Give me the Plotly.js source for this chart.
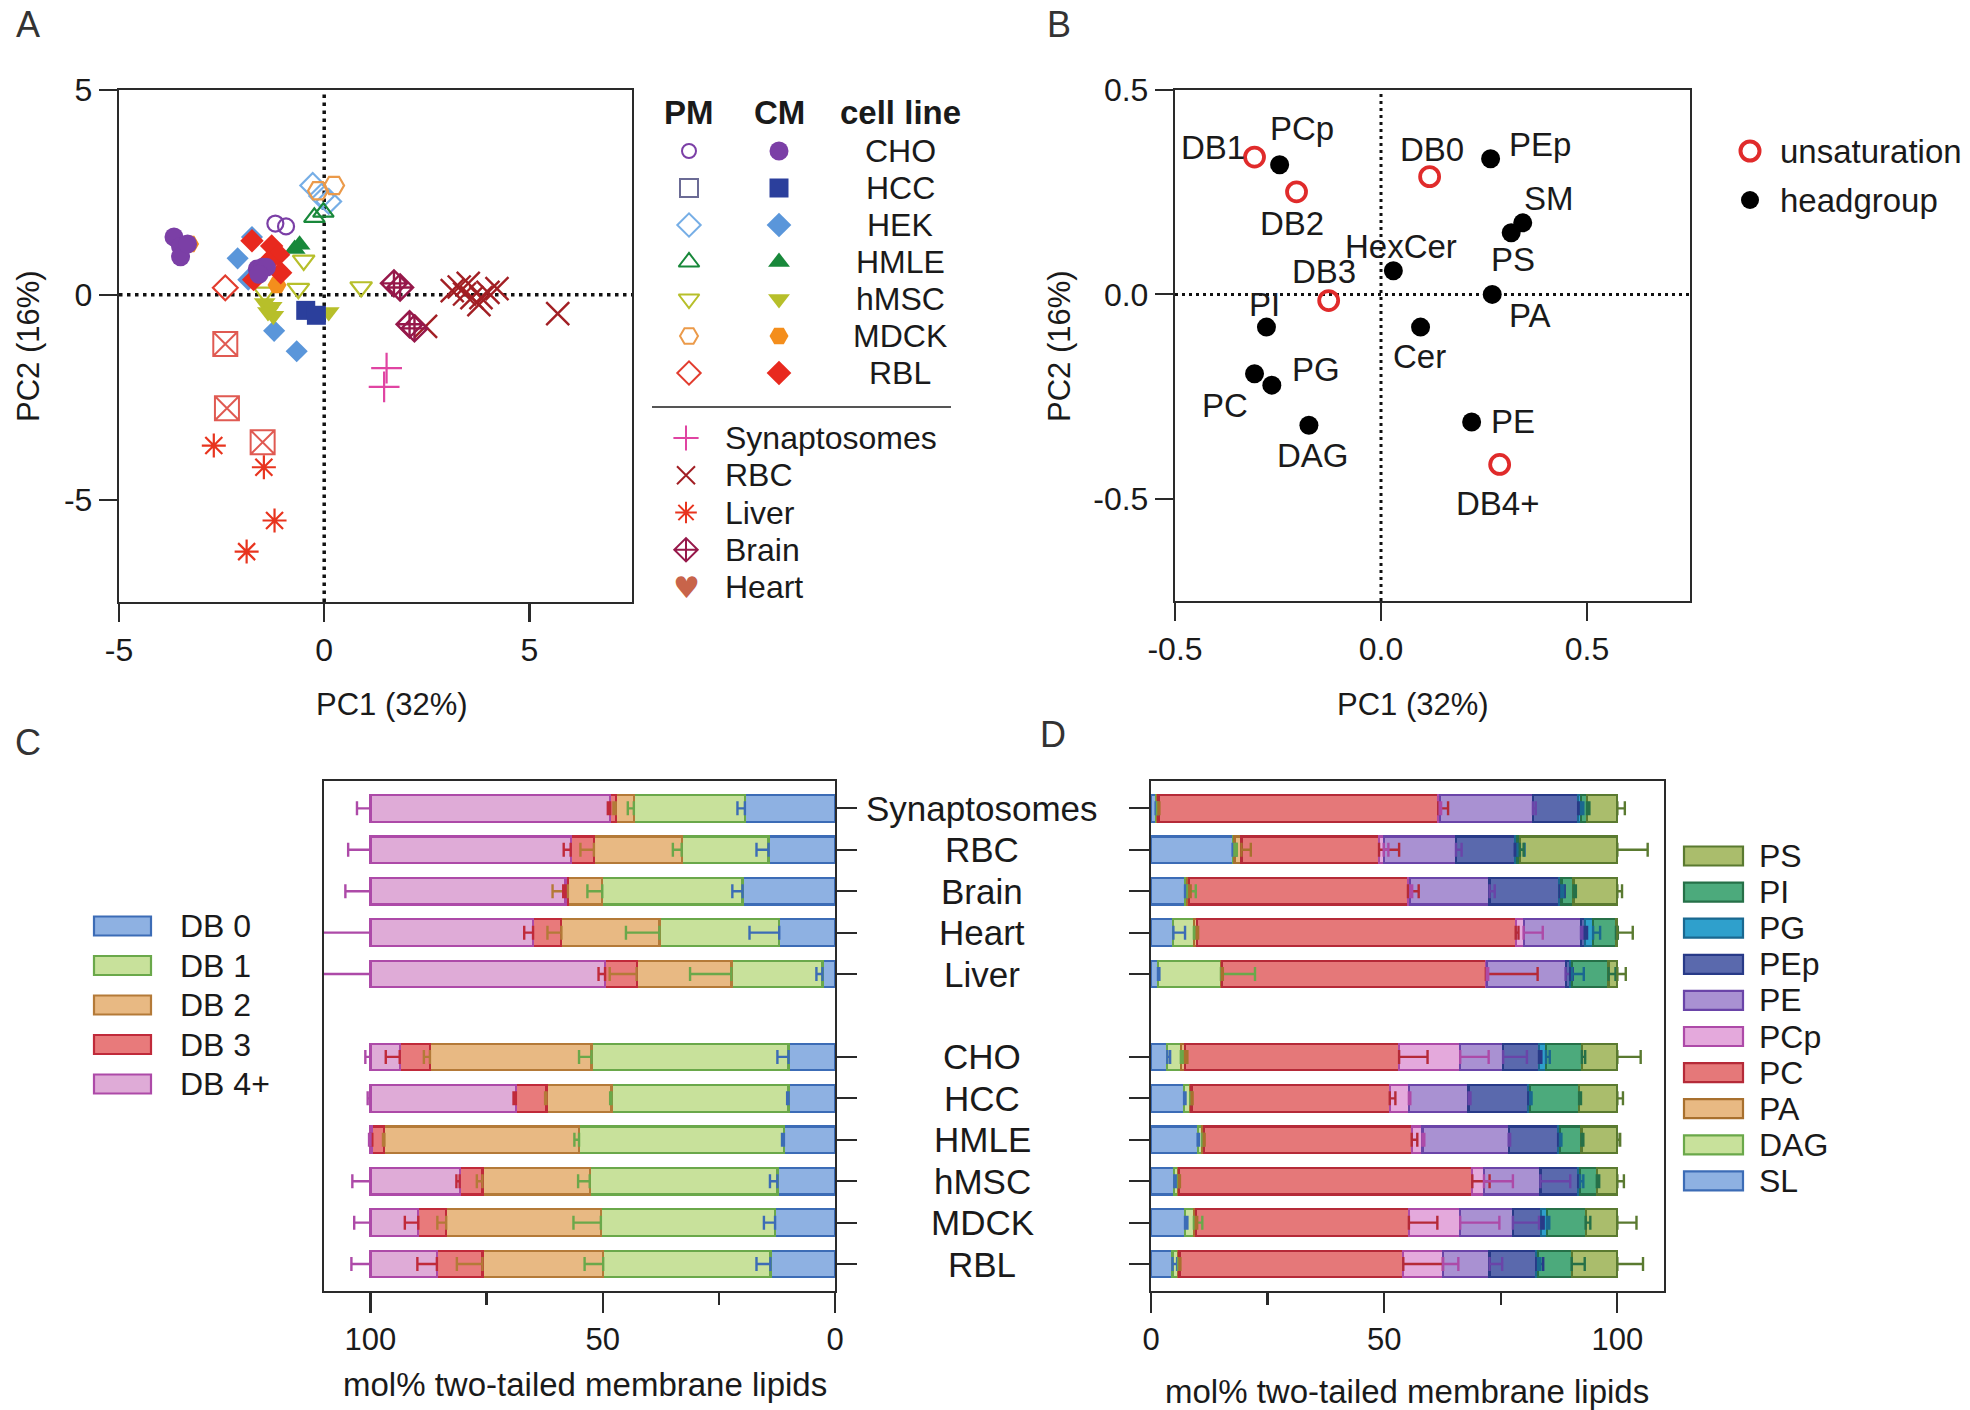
<!DOCTYPE html>
<html><head><meta charset="utf-8">
<script src="https://cdn.plot.ly/plotly-3.0.1.min.js"></script>
<style>html,body{margin:0;padding:0;background:#fff}#chart{width:1970px;height:1410px}</style>
</head><body><div id="chart"></div>
<script>
// ================= DATA =================
// Panel A : PCA scores (PC1, PC2)
const choPM_x = [-1.19, -0.93], choPM_y = [1.74, 1.67];
const choCM_x = [-3.66, -3.50, -3.50, -3.33, -1.63, -1.50, -1.41, -1.59];
const choCM_y = [1.41, 1.18, 0.93, 1.24, 0.63, 0.67, 0.67, 0.50];
const hccCM_x = [-0.45, -0.19], hccCM_y = [-0.38, -0.50];
const hekPM_x = [-0.28, -0.06, 0.11], hekPM_y = [2.67, 2.41, 2.28];
const hekCM_x = [-1.76, -2.11, -1.85, -1.22, -0.67], hekCM_y = [1.41, 0.89, 0.37, -0.88, -1.38];
const hmlePM_x = [-0.24, -0.02], hmlePM_y = [1.89, 2.02];
const hmleCM_x = [-0.72, -0.60], hmleCM_y = [1.12, 1.22];
const hmscPM_x = [-0.50, -0.63, 0.90, -1.45], hmscPM_y = [0.84, 0.15, 0.19, 0.06];
const hmscCM_x = [-1.45, -1.28, -1.24, -1.37, 0.11], hmscCM_y = [-0.20, -0.29, -0.51, -0.42, -0.42];
const mdckPM_x = [0.24, -0.15], mdckPM_y = [2.67, 2.54];
const mdckCM_x = [-1.15, -3.28], mdckCM_y = [0.24, 1.24];
const rblPM_x = [-2.41], rblPM_y = [0.17];
const rblCM_x = [-1.76, -1.28, -1.11, -1.37, -1.72, -1.06], rblCM_y = [1.32, 1.19, 0.98, 0.80, 0.37, 0.54];
const syn_x = [1.52, 1.46], syn_y = [-1.79, -2.25];
const rbc_x = [3.12, 3.29, 3.42, 3.60, 3.77, 3.99, 4.21, 3.82, 3.51, 2.47, 5.69];
const rbc_y = [0.10, 0.19, 0.02, -0.07, -0.24, 0.06, 0.15, -0.07, 0.28, -0.77, -0.46];
const liver_x = [-2.69, -1.47, -1.21, -1.89], liver_y = [-3.68, -4.21, -5.51, -6.27];
const brain_x = [1.70, 1.85, 2.08, 2.20], brain_y = [0.28, 0.18, -0.72, -0.82];
const heart_x = [-2.41, -2.37, -1.50], heart_y = [-1.20, -2.77, -3.60];

const cellLines = ['CHO', 'HCC', 'HEK', 'HMLE', 'hMSC', 'MDCK', 'RBL'];
const tissues = ['Synaptosomes', 'RBC', 'Liver', 'Brain', 'Heart'];

// Panel B : loadings
const unsatLabels = ['DB0', 'DB1', 'DB2', 'DB3', 'DB4+'];
const unsat_x = [0.118, -0.307, -0.205, -0.127, 0.288];
const unsat_y = [0.288, 0.336, 0.251, -0.015, -0.416];
const headLabels = ['PCp', 'PEp', 'SM', 'PS', 'HexCer', 'PA', 'PI', 'Cer', 'PC', 'PG', 'DAG', 'PE'];
const head_x = [-0.246, 0.266, 0.344, 0.316, 0.030, 0.270, -0.278, 0.096, -0.307, -0.265, -0.175, 0.220];
const head_y = [0.317, 0.332, 0.175, 0.151, 0.058, 0.000, -0.080, -0.080, -0.194, -0.222, -0.320, -0.312];

// Panels C & D : rows
const samples = ['Synaptosomes', 'RBC', 'Brain', 'Heart', 'Liver', 'CHO', 'HCC', 'HMLE', 'hMSC', 'MDCK', 'RBL'];

// Panel C : unsaturation (mol%)
const dbNames = ['DB 0', 'DB 1', 'DB 2', 'DB 3', 'DB 4+'];
const db0 = [19.4, 14.3, 19.9, 12.0, 2.7, 10.0, 10.0, 11.0, 12.4, 12.9, 13.9];
const db1 = [23.9, 18.7, 30.2, 25.8, 19.6, 42.4, 38.1, 44.1, 40.4, 37.5, 36.0];
const db2 = [3.9, 18.9, 7.4, 21.1, 20.4, 34.8, 14.0, 41.9, 23.1, 33.3, 26.0];
const db3 = [1.2, 5.0, 0.5, 6.1, 6.8, 6.5, 6.6, 2.6, 4.9, 6.0, 9.8];
const db4 = [51.6, 43.1, 42.0, 35.0, 50.5, 6.3, 31.3, 0.4, 19.2, 10.3, 14.3];
const db0_sd = [1.6, 2.6, 2.2, 6.4, 1.3, 2.4, 0.3, 0.4, 1.6, 2.4, 3.0];
const db1_sd = [1.3, 1.9, 3.2, 7.2, 8.9, 2.7, 0.3, 1.0, 2.5, 5.9, 4.0];
const db2_sd = [0.5, 2.9, 3.3, 3.0, 5.8, 1.3, 0.3, 0.3, 1.2, 1.9, 5.5];
const db3_sd = [0.5, 1.5, 0.5, 1.9, 1.4, 3.0, 0.5, 0.4, 0.7, 2.9, 4.2];
const db4_sd = [2.9, 4.8, 5.4, 14.0, 14.0, 1.1, 0.6, 0.3, 3.9, 3.5, 4.1];

// Panel D : headgroup classes (mol%)
const hgNames = ['SL', 'DAG', 'PA', 'PC', 'PCp', 'PE', 'PEp', 'PG', 'PI', 'PS'];
const sl  = [1.0, 17.5, 7.3, 4.8, 1.5, 3.5, 7.1, 10.0, 5.0, 7.3, 4.6];
const dag = [0.3, 0.4, 0.5, 4.4, 13.5, 2.9, 1.3, 1.0, 0.8, 1.9, 1.2];
const pa  = [0.3, 1.5, 0.4, 0.6, 0.2, 0.9, 0.3, 0.3, 0.2, 0.4, 0.3];
const pc  = [60.0, 29.5, 46.9, 68.4, 56.6, 45.9, 42.5, 44.6, 62.9, 45.7, 48.0];
const pcp = [0.3, 1.0, 0.5, 1.7, 0.2, 13.1, 4.1, 2.3, 2.5, 11.0, 8.5];
const pe  = [20.0, 15.5, 17.0, 12.3, 16.9, 9.2, 12.8, 18.5, 12.1, 11.3, 10.0];
const pep = [9.7, 12.6, 15.0, 0.8, 1.0, 7.7, 12.8, 10.6, 8.1, 6.1, 10.0];
const pg  = [0.6, 0.6, 0.4, 1.8, 0.4, 1.5, 0.4, 0.4, 0.4, 1.2, 0.4];
const pi  = [1.3, 0.5, 2.6, 4.9, 7.8, 7.7, 10.5, 4.6, 3.6, 8.3, 7.2];
const ps  = [6.5, 20.9, 9.4, 0.3, 1.9, 7.6, 8.2, 7.7, 4.4, 6.8, 9.8];
const sl_sd  = [0.3, 0.8, 0.5, 2.5, 0.3, 0.6, 0.3, 0.3, 0.4, 0.5, 1.0];
const dag_sd = [0.2, 0.5, 1.8, 0.3, 7.3, 0.5, 0.4, 0.3, 0.3, 1.8, 0.3];
const pa_sd  = [0.2, 2.0, 0.3, 0.3, 0.2, 0.5, 0.2, 0.2, 0.2, 0.3, 0.2];
const pc_sd  = [2.1, 4.3, 2.3, 0.6, 11.1, 6.1, 1.2, 1.2, 3.7, 6.1, 8.5];
const pcp_sd = [0.3, 1.0, 0.4, 4.1, 0.3, 6.1, 0.3, 0.4, 6.2, 8.4, 3.3];
const pe_sd  = [0.6, 1.2, 1.1, 0.5, 1.5, 5.1, 0.4, 0.3, 6.4, 5.6, 2.7];
const pep_sd = [0.5, 0.5, 1.1, 0.5, 0.5, 0.5, 0.4, 0.4, 0.3, 0.5, 1.5];
const pg_sd  = [0.5, 1.5, 0.4, 1.5, 2.5, 0.8, 0.3, 0.3, 0.7, 0.5, 0.5];
const pi_sd  = [0.5, 0.8, 0.5, 0.4, 1.5, 0.7, 0.4, 0.4, 0.5, 1.0, 2.8];
const ps_sd  = [1.6, 6.5, 1.0, 3.3, 1.8, 5.0, 1.2, 0.6, 1.4, 4.1, 5.5];

// ================= STYLE =================
const FONT = 'Liberation Sans, Arial, Helvetica, sans-serif';
const TXT = '#1a1a1a';
const W = 1970, H = 1410;
const cellStyle = {
  CHO:  {pm: 'circle-open',        cm: 'circle',        c: '#7b3fa6', cpm: '#7b3fa6'},
  HCC:  {pm: 'square-open',        cm: 'square',        c: '#2b3f9c', cpm: '#6b6b95'},
  HEK:  {pm: 'diamond-open',       cm: 'diamond',       c: '#5a96da', cpm: '#76aee6'},
  HMLE: {pm: 'triangle-up-open',   cm: 'triangle-up',   c: '#18883a', cpm: '#18883a'},
  hMSC: {pm: 'triangle-down-open', cm: 'triangle-down', c: '#b7bf2a', cpm: '#b7bf2a'},
  MDCK: {pm: 'hexagon2-open',      cm: 'hexagon2',      c: '#f48e1c', cpm: '#eb9a4a'},
  RBL:  {pm: 'diamond-open',       cm: 'diamond',       c: '#e8291e', cpm: '#e23c2e'}
};
const tissueStyle = {
  Synaptosomes: {s: 'cross-thin-open', c: '#e044a2'},
  RBC:          {s: 'x-thin-open',     c: '#a21f24'},
  Liver:        {s: 'asterisk-open',   c: '#e8341e'},
  Brain:        {s: 'diamond-cross-open', c: '#96184a'},
  Heart:        {s: 'square-x-open',   c: '#e05a52'}
};
const dbFill = ['#8eb1e2', '#c8e19b', '#e8b983', '#e87a7b', '#dfabd7'];
const dbLine = ['#3c6cb6', '#6aa84a', '#b47a38', '#c02a3a', '#ad4aa8'];
const hgFill = ['#8eb1e2', '#c8e19b', '#e8b983', '#e57879', '#e4a9dc', '#a991d2', '#5a69ad', '#2fa0cc', '#4caa7c', '#aabd6c'];
const hgLine = ['#3c6cb6', '#6aa84a', '#a8702e', '#b52a38', '#ad4aa8', '#6a44a8', '#283a88', '#1a6890', '#267048', '#5a7a30'];
const labelShift = {
  DB1: [-42, -10], PCp: [22, -36], DB2: [-5, 32], DB0: [2, -27], PEp: [49, -14], SM: [26, -24],
  PS: [2, 27], HexCer: [8, -24], DB3: [-5, -29], PI: [-2, -23], PA: [38, 21], Cer: [-1, 29],
  PG: [44, -16], PC: [-30, 32], DAG: [4, 30], PE: [41, 0], 'DB4+': [-2, 39]
};

// ================= BUILD =================
const traces = [];
const annotations = [];
const shapes = [];
const px = v => v / W, py = v => 1 - v / H;

function pt(x, y, symbol, color, size, axes, lw) {
  const open = symbol.indexOf('open') >= 0;
  traces.push({
    type: 'scatter', mode: 'markers', x: x, y: y, xaxis: axes[0], yaxis: axes[1],
    showlegend: false, hoverinfo: 'skip',
    marker: {symbol: symbol, size: size, color: color,
             line: {color: color, width: open ? (lw || 2.2) : 0}}
  });
}
const A = ['x', 'y'];
// PM (open) first, CM (filled) on top, tissues last
pt(choPM_x, choPM_y, cellStyle.CHO.pm, cellStyle.CHO.cpm, 16, A);
pt(hekPM_x, hekPM_y, cellStyle.HEK.pm, cellStyle.HEK.cpm, 19, A);
pt(hmlePM_x, hmlePM_y, cellStyle.HMLE.pm, cellStyle.HMLE.cpm, 18, A);
pt(hmscPM_x, hmscPM_y, cellStyle.hMSC.pm, cellStyle.hMSC.cpm, 19, A);
pt(mdckPM_x, mdckPM_y, cellStyle.MDCK.pm, cellStyle.MDCK.cpm, 20, A);
pt(rblPM_x, rblPM_y, cellStyle.RBL.pm, cellStyle.RBL.cpm, 19, A);
pt(hekCM_x, hekCM_y, cellStyle.HEK.cm, cellStyle.HEK.c, 17, A);
pt(hmscCM_x, hmscCM_y, cellStyle.hMSC.cm, cellStyle.hMSC.c, 19, A);
pt(hmleCM_x, hmleCM_y, cellStyle.HMLE.cm, cellStyle.HMLE.c, 19, A);
pt(hccCM_x, hccCM_y, cellStyle.HCC.cm, cellStyle.HCC.c, 19, A);
pt(mdckCM_x, mdckCM_y, cellStyle.MDCK.cm, cellStyle.MDCK.c, 19, A);
pt(rblCM_x, rblCM_y, cellStyle.RBL.cm, cellStyle.RBL.c, 18, A);
pt(choCM_x, choCM_y, cellStyle.CHO.cm, cellStyle.CHO.c, 19, A);
pt(syn_x, syn_y, tissueStyle.Synaptosomes.s, tissueStyle.Synaptosomes.c, 22, A, 2.2);
pt(rbc_x, rbc_y, tissueStyle.RBC.s, tissueStyle.RBC.c, 23, A, 2.4);
pt(liver_x, liver_y, tissueStyle.Liver.s, tissueStyle.Liver.c, 20, A, 2.2);
pt(brain_x, brain_y, tissueStyle.Brain.s, tissueStyle.Brain.c, 20, A, 2.4);
pt(heart_x, heart_y, tissueStyle.Heart.s, tissueStyle.Heart.c, 24, A, 2);

// zero lines (A,B)
const dotA = {color: '#111', width: 3.5, dash: '3.5px,4.5px'};
shapes.push({type: 'line', xref: 'x', yref: 'y', x0: 0, x1: 0, y0: -7.5, y1: 5, line: dotA, layer: 'below'});
shapes.push({type: 'line', xref: 'x', yref: 'y', x0: -5, x1: 7.5, y0: 0, y1: 0, line: dotA, layer: 'below'});
const dotB = {color: '#111', width: 3, dash: '3px,4px'};
shapes.push({type: 'line', xref: 'x2', yref: 'y2', x0: 0, x1: 0, y0: -0.75, y1: 0.5, line: dotB, layer: 'below'});
shapes.push({type: 'line', xref: 'x2', yref: 'y2', x0: -0.5, x1: 0.75, y0: 0, y1: 0, line: dotB, layer: 'below'});

// Panel B points
traces.push({type: 'scatter', mode: 'markers', x: head_x, y: head_y, xaxis: 'x2', yaxis: 'y2', showlegend: false,
  hoverinfo: 'skip', marker: {symbol: 'circle', size: 19, color: '#000'}});
traces.push({type: 'scatter', mode: 'markers', x: unsat_x, y: unsat_y, xaxis: 'x2', yaxis: 'y2', showlegend: false,
  hoverinfo: 'skip', marker: {symbol: 'circle-open', size: 19, color: '#e02b2b', line: {color: '#e02b2b', width: 3.8}}});
function bLabel(lbl, x, y) {
  const s = labelShift[lbl] || [0, -25];
  annotations.push({xref: 'x2', yref: 'y2', x: x, y: y, text: lbl, showarrow: false,
    xshift: s[0], yshift: -s[1], font: {family: FONT, size: 33, color: TXT}});
}
unsatLabels.forEach((l, i) => bLabel(l, unsat_x[i], unsat_y[i]));
headLabels.forEach((l, i) => bLabel(l, head_x[i], head_y[i]));

// Panels C and D: stacked bars + errorbars (drawn on top)
const gapAfter = 4;
const rowPos = samples.map((s, i) => i > gapAfter ? i + 1 : i);
function stacked(segs, sds, fills, lines, ax) {
  let run = segs[0].map(() => 0);
  const ends = [];
  segs.forEach((seg, k) => {
    traces.push({type: 'bar', orientation: 'h', x: seg, y: rowPos, xaxis: ax[0], yaxis: ax[1],
      width: 0.64, showlegend: false, hoverinfo: 'skip',
      marker: {color: fills[k], line: {color: lines[k], width: 2.2}}});
    run = run.map((v, i) => v + seg[i]);
    ends.push(run.slice());
  });
  ends.forEach((e, k) => {
    traces.push({type: 'scatter', mode: 'markers', x: e, y: rowPos, xaxis: ax[0], yaxis: ax[1],
      showlegend: false, hoverinfo: 'skip', cliponaxis: true,
      marker: {size: 1, color: 'rgba(0,0,0,0)'},
      error_x: {type: 'data', symmetric: false, array: sds[k], arrayminus: sds[k].map(() => 0),
        color: lines[k], thickness: 2.4, width: 7}});
  });
}
stacked([db0, db1, db2, db3, db4], [db0_sd, db1_sd, db2_sd, db3_sd, db4_sd], dbFill, dbLine, ['x3', 'y3']);
stacked([sl, dag, pa, pc, pcp, pe, pep, pg, pi, ps],
        [sl_sd, dag_sd, pa_sd, pc_sd, pcp_sd, pe_sd, pep_sd, pg_sd, pi_sd, ps_sd], hgFill, hgLine, ['x4', 'y4']);

// Row labels between C and D
samples.forEach((s, i) => annotations.push({xref: 'paper', yref: 'y3', x: px(982), y: rowPos[i], text: s,
  showarrow: false, xanchor: 'center', font: {family: FONT, size: 35, color: TXT}}));

// ---------- legends & titles (pixel overlay axis x5/y5) ----------
function txt(x, y, t, size, opt) {
  annotations.push(Object.assign({xref: 'x5', yref: 'y5', x: x, y: y, text: t, showarrow: false,
    font: {family: FONT, size: size, color: TXT}}, opt || {}));
}
// panel letters
const letterFont = {family: FONT, size: 36, color: '#333'};
txt(28, 24, 'A', 36, {font: letterFont});
txt(1059, 24, 'B', 36, {font: letterFont});
txt(28, 742, 'C', 36, {font: letterFont});
txt(1053, 734, 'D', 36, {font: letterFont});
// axis titles
txt(392, 704, 'PC1 (32%)', 31);
txt(28, 346, 'PC2 (16%)', 31, {textangle: -90});
txt(1413, 704, 'PC1 (32%)', 31);
txt(1059, 346, 'PC2 (16%)', 31, {textangle: -90});
txt(585, 1384, 'mol% two-tailed membrane lipids', 33);
txt(1407, 1391, 'mol% two-tailed membrane lipids', 33);

// Legend A
txt(689, 112, '<b>PM</b>', 33);
txt(779, 112, '<b>CM</b>', 33);
txt(900, 112, '<b>cell line</b>', 33);
const rowA = i => 151 + i * 37;
cellLines.forEach((c, i) => {
  const st = cellStyle[c];
  traces.push({type: 'scatter', mode: 'markers', x: [689], y: [rowA(i)], xaxis: 'x5', yaxis: 'y5', showlegend: false,
    hoverinfo: 'skip', marker: {symbol: st.pm, size: (c === 'CHO' ? 14 : 18), color: st.cpm, line: {color: st.cpm, width: 2}}});
  traces.push({type: 'scatter', mode: 'markers', x: [779], y: [rowA(i)], xaxis: 'x5', yaxis: 'y5', showlegend: false,
    hoverinfo: 'skip', marker: {symbol: st.cm, size: 19, color: st.c}});
  txt(900, rowA(i), c, 32);
});
shapes.push({type: 'line', xref: 'x5', yref: 'y5', x0: 652, x1: 951, y0: 407, y1: 407, line: {color: '#555', width: 2}});
const rowT = i => 438 + i * 37.25;
tissues.forEach((t, i) => {
  const st = tissueStyle[t];
  if (t === 'Heart') {
    txt(686, rowT(i), '♥', 30, {font: {family: 'DejaVu Sans', size: 30, color: '#c8644a'}});
  } else {
    traces.push({type: 'scatter', mode: 'markers', x: [686], y: [rowT(i)], xaxis: 'x5', yaxis: 'y5', showlegend: false,
      hoverinfo: 'skip', marker: {symbol: st.s, size: 18, color: st.c, line: {color: st.c, width: 2}}});
  }
  txt(723, rowT(i), t, 32, {xanchor: 'left'});
});

// Legend B
traces.push({type: 'scatter', mode: 'markers', x: [1750], y: [151], xaxis: 'x5', yaxis: 'y5', showlegend: false,
  hoverinfo: 'skip', marker: {symbol: 'circle-open', size: 19, color: '#e02b2b', line: {color: '#e02b2b', width: 4}}});
traces.push({type: 'scatter', mode: 'markers', x: [1750], y: [200], xaxis: 'x5', yaxis: 'y5', showlegend: false,
  hoverinfo: 'skip', marker: {symbol: 'circle', size: 18, color: '#000'}});
txt(1778, 151, 'unsaturation', 33, {xanchor: 'left'});
txt(1778, 200, 'headgroup', 33, {xanchor: 'left'});

// Legend C
dbNames.forEach((n, i) => {
  const y = 926 + i * 39.5;
  shapes.push({type: 'rect', xref: 'x5', yref: 'y5', x0: 94, x1: 151, y0: y - 9.5, y1: y + 9.5,
    fillcolor: dbFill[i], line: {color: dbLine[i], width: 2.2}});
  txt(178, y, n, 32, {xanchor: 'left'});
});
// Legend D (top to bottom = reversed stacking order)
hgNames.slice().reverse().forEach((n, j) => {
  const k = hgNames.length - 1 - j;
  const y = 856 + j * 36.1;
  shapes.push({type: 'rect', xref: 'x5', yref: 'y5', x0: 1684, x1: 1743, y0: y - 9.5, y1: y + 9.5,
    fillcolor: hgFill[k], line: {color: hgLine[k], width: 2.2}});
  txt(1757, y, n, 32, {xanchor: 'left'});
});

// ================= LAYOUT =================
const axBase = {showline: true, mirror: true, linecolor: '#2a2a2a', linewidth: 2.2, ticks: 'outside',
  tickwidth: 2.2, tickcolor: '#2a2a2a', showgrid: false, zeroline: false, fixedrange: true,
  tickfont: {family: FONT, size: 32, color: TXT}};
const ax = o => Object.assign({}, axBase, o);
const layout = {
  width: W, height: H, margin: {l: 0, r: 0, t: 0, b: 0}, paper_bgcolor: '#fff', plot_bgcolor: 'rgba(0,0,0,0)',
  showlegend: false, barmode: 'stack', font: {family: FONT, color: TXT},
  xaxis: ax({domain: [px(119), px(632)], anchor: 'y', range: [-5, 7.5], tickvals: [-5, 0, 5], ticktext: ['-5', '0', '5'], ticklen: 18}),
  yaxis: ax({domain: [py(602), py(90)], anchor: 'x', range: [-7.5, 5], tickvals: [-5, 0, 5], ticktext: ['-5', '0', '5'], ticklen: 18}),
  xaxis2: ax({domain: [px(1175), px(1690)], anchor: 'y2', range: [-0.5, 0.75], tickvals: [-0.5, 0, 0.5], ticktext: ['-0.5', '0.0', '0.5'], ticklen: 18}),
  yaxis2: ax({domain: [py(601), py(90)], anchor: 'x2', range: [-0.75, 0.5], tickvals: [-0.5, 0, 0.5], ticktext: ['-0.5', '0.0', '0.5'], ticklen: 18}),
  xaxis3: ax({domain: [px(324), px(835)], anchor: 'y3', range: [110, 0], tickvals: [100, 50, 0], ticktext: ['100', '50', '0'], ticklen: 20,
    tickfont: {family: FONT, size: 31, color: TXT},
    minor: {tickvals: [75, 25], ticks: 'outside', ticklen: 12, tickwidth: 2.2, tickcolor: '#2a2a2a', showgrid: false}}),
  yaxis3: ax({domain: [py(1291), py(781)], anchor: 'x3', side: 'right', range: [11.65, -0.66], tickvals: rowPos, showticklabels: false, ticklen: 20}),
  xaxis4: ax({domain: [px(1151), px(1664)], anchor: 'y4', range: [0, 110], tickvals: [0, 50, 100], ticktext: ['0', '50', '100'], ticklen: 20,
    tickfont: {family: FONT, size: 31, color: TXT},
    minor: {tickvals: [25, 75], ticks: 'outside', ticklen: 12, tickwidth: 2.2, tickcolor: '#2a2a2a', showgrid: false}}),
  yaxis4: ax({domain: [py(1291), py(781)], anchor: 'x4', side: 'left', range: [11.65, -0.66], tickvals: rowPos, showticklabels: false, ticklen: 20}),
  xaxis5: {domain: [0, 1], anchor: 'y5', range: [0, W], visible: false, fixedrange: true},
  yaxis5: {domain: [0, 1], anchor: 'x5', range: [H, 0], visible: false, fixedrange: true},
  annotations: annotations, shapes: shapes
};
Plotly.newPlot('chart', traces, layout, {staticPlot: true, displayModeBar: false});
</script></body></html>
